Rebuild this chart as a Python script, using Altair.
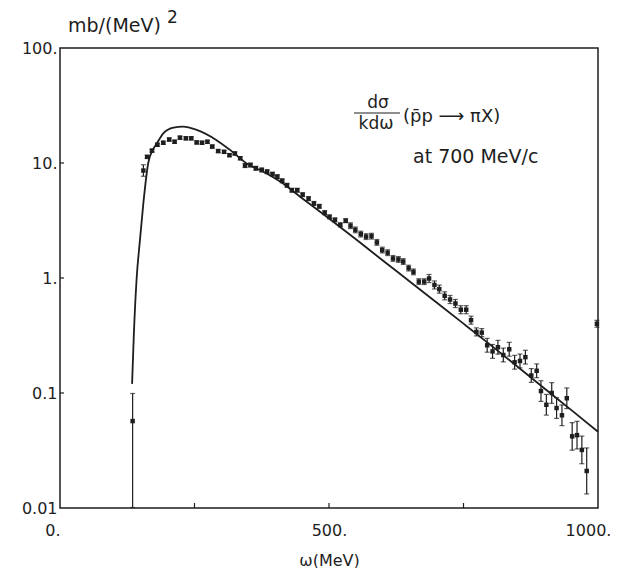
import altair as alt
import pandas as pd

# ---- model curve (solid line) ----
curve_w = [134, 137, 142.5, 148, 155, 164, 172, 180, 192, 211, 229, 254, 291, 316, 347,
           378, 409, 450, 500, 550, 600, 650, 700, 750, 800, 850, 900, 950, 1000]
curve_v = [0.12, 0.3, 1.0, 2.0, 4.5, 10.0, 12.9, 14.8, 18.1, 20.3, 20.7, 19.4, 15.8, 13.0, 9.9,
           8.4, 6.9, 4.93, 3.29, 2.17, 1.42, 0.933, 0.612, 0.401, 0.262, 0.170, 0.110, 0.0713, 0.046]

# ---- measured points ----
data_w = [135, 155, 162, 171, 181, 192, 203, 213, 223, 234, 244, 254, 264, 274, 283,
          294, 305, 315, 325, 335, 344, 354, 364, 375, 385, 395, 404, 413, 422, 431,
          441, 451, 462, 472, 482, 492, 501, 511, 521, 531, 540, 549, 559, 569, 579,
          589, 599, 609, 619, 629, 638, 648, 657, 667, 677, 686, 696, 705, 715, 725,
          735, 745, 755, 764, 774, 784, 794, 804, 814, 824, 835, 845, 855, 865, 876,
          886, 894, 904, 914, 923, 933, 942, 952, 961, 970, 979, 998]
data_v = [0.057, 8.6, 11.3, 12.8, 14.4, 15.0, 16.0, 15.3, 16.6, 16.4, 16.4, 15.1, 15.0, 15.3, 13.9,
          12.7, 12.5, 11.7, 12.1, 11.0, 9.5, 9.6, 9.0, 8.7, 8.4, 8.0, 7.6, 7.0, 6.4, 5.8,
          5.8, 5.3, 4.9, 4.45, 4.2, 3.7, 3.4, 3.2, 2.9, 3.15, 2.85, 2.62, 2.41, 2.29, 2.31,
          2.04, 1.75, 1.66, 1.48, 1.45, 1.39, 1.22, 1.13, 0.93, 0.93, 0.99, 0.87, 0.80, 0.70, 0.65,
          0.60, 0.53, 0.53, 0.43, 0.34, 0.335, 0.26, 0.23, 0.25, 0.214, 0.24, 0.185, 0.19, 0.205, 0.142,
          0.156, 0.104, 0.079, 0.10, 0.074, 0.064, 0.090, 0.042, 0.043, 0.032, 0.021, 0.40]
# error half-widths in decades (log10)
data_err = [0.24, 0.05, 0.013, 0.013, 0.013, 0.013, 0.013, 0.013, 0.013, 0.013, 0.013, 0.013, 0.013, 0.013, 0.013,
            0.013, 0.013, 0.013, 0.013, 0.013, 0.017, 0.017, 0.017, 0.017, 0.017, 0.017, 0.017, 0.017, 0.017, 0.017,
            0.017, 0.017, 0.017, 0.017, 0.017, 0.017, 0.017, 0.017, 0.017, 0.017, 0.025, 0.025, 0.025, 0.025, 0.025,
            0.025, 0.025, 0.025, 0.025, 0.025, 0.025, 0.025, 0.025, 0.025, 0.025, 0.035, 0.035, 0.035, 0.035, 0.035,
            0.035, 0.035, 0.035, 0.035, 0.035, 0.035, 0.06, 0.06, 0.06, 0.06, 0.06, 0.06, 0.06, 0.06, 0.06,
            0.06, 0.09, 0.09, 0.09, 0.09, 0.09, 0.09, 0.12, 0.12, 0.12, 0.2, 0.03]

x_ticks = [0, 250, 500, 750, 1000]
y_ticks = [0.01, 0.1, 1, 10, 100]

INK = "#1e1e1e"
FONT = "DejaVu Sans"

curve_df = pd.DataFrame({"w": curve_w, "v": curve_v})
pts = pd.DataFrame({"w": data_w, "v": data_v, "e": data_err})
pts["lo"] = pts["v"] / (10 ** pts["e"])
pts["hi"] = pts["v"] * (10 ** pts["e"])
pts.loc[0, "lo"] = 0.0101  # threshold bar reaches the axis

xs = alt.Scale(domain=[0, 1000], nice=False)
ys = alt.Scale(type="log", domain=[0.01, 100], nice=False)

x_axis = alt.Axis(values=x_ticks, labelExpr="datum.value % 500 == 0 ? datum.value + '.' : ''",
                  ticks=False, domain=False, grid=False, labelFontSize=16, labelFont=FONT,
                  labelColor=INK, labelPadding=14, labelFlush=False,
                  labelAlign={"condition": {"test": "datum.value === 0", "value": "right"}, "value": "center"},
                  labelOffset={"condition": {"test": "datum.value === 1000", "value": -10}, "value": 0},
                  title="ω(MeV)", titleFont=FONT,
                  titleFontSize=16, titleFontWeight="normal", titleColor=INK, titlePadding=14)
y_axis = alt.Axis(values=y_ticks,
                  labelExpr="datum.value >= 100 ? '100.' : datum.value >= 10 ? '10.' : datum.value >= 1 ? '1.' : datum.value >= 0.1 ? '0.1' : '0.01'",
                  ticks=False, domain=False, grid=False, labelFontSize=16, labelFont=FONT,
                  labelColor=INK, labelPadding=3, title=None)

curve = alt.Chart(curve_df).mark_line(color=INK, strokeWidth=1.8, interpolate="monotone").encode(
    x=alt.X("w:Q", scale=xs, axis=x_axis),
    y=alt.Y("v:Q", scale=ys, axis=y_axis),
)

bars = alt.Chart(pts).mark_rule(color=INK, strokeWidth=1.2).encode(
    x=alt.X("w:Q", scale=xs), y=alt.Y("lo:Q", scale=ys), y2="hi:Q")
cap_lo = alt.Chart(pts).mark_tick(color=INK, orient="horizontal", size=5, thickness=1.2).encode(
    x=alt.X("w:Q", scale=xs), y=alt.Y("lo:Q", scale=ys))
cap_hi = alt.Chart(pts).mark_tick(color=INK, orient="horizontal", size=5, thickness=1.2).encode(
    x=alt.X("w:Q", scale=xs), y=alt.Y("hi:Q", scale=ys))
points = alt.Chart(pts).mark_square(color=INK, size=20, opacity=1).encode(
    x=alt.X("w:Q", scale=xs), y=alt.Y("v:Q", scale=ys))

# inward ticks
xt = alt.Chart(pd.DataFrame({"t": [250, 500, 750]})).mark_rule(color=INK, strokeWidth=1.2).encode(
    x=alt.X("t:Q", scale=xs), y=alt.value(460), y2=alt.value(455))
yt = alt.Chart(pd.DataFrame({"t": [0.1, 1, 10]})).mark_rule(color=INK, strokeWidth=1.2).encode(
    y=alt.Y("t:Q", scale=ys), x=alt.value(0), x2=alt.value(4))

one = pd.DataFrame({"a": [0]})


def label(txt, x, y, size=16, align="left"):
    return alt.Chart(one).mark_text(text=txt, font=FONT, fontSize=size, color=INK,
                                    align=align, baseline="middle").encode(
        x=alt.value(x), y=alt.value(y))


ytitle = label("mb/(MeV)", 8, -22, size=19)
ysup = label("2", 107, -30, size=17)
t_num = label("dσ", 318, 55, size=17, align="center")
t_den = label("kdω", 316, 76, size=17, align="center")
frac = alt.Chart(one).mark_rule(color=INK, strokeWidth=1.2).encode(
    x=alt.value(294), x2=alt.value(340), y=alt.value(65))
t_react = label("(p̄p ⟶ πX)", 343, 69, size=18)
t_at = label("at  700 MeV/c", 353, 109, size=19)

chart = alt.layer(curve, bars, cap_lo, cap_hi, points, xt, yt,
                  ytitle, ysup, t_num, t_den, frac, t_react, t_at).properties(
    width=538, height=460,
    autosize=alt.AutoSizeParams(type="none"),
    padding={"left": 52, "top": 40, "right": 12, "bottom": 60},
    background="white",
).configure_view(stroke=INK, strokeWidth=1.5)

chart.save("out.html", embed_options={"renderer": "svg", "actions": False})
